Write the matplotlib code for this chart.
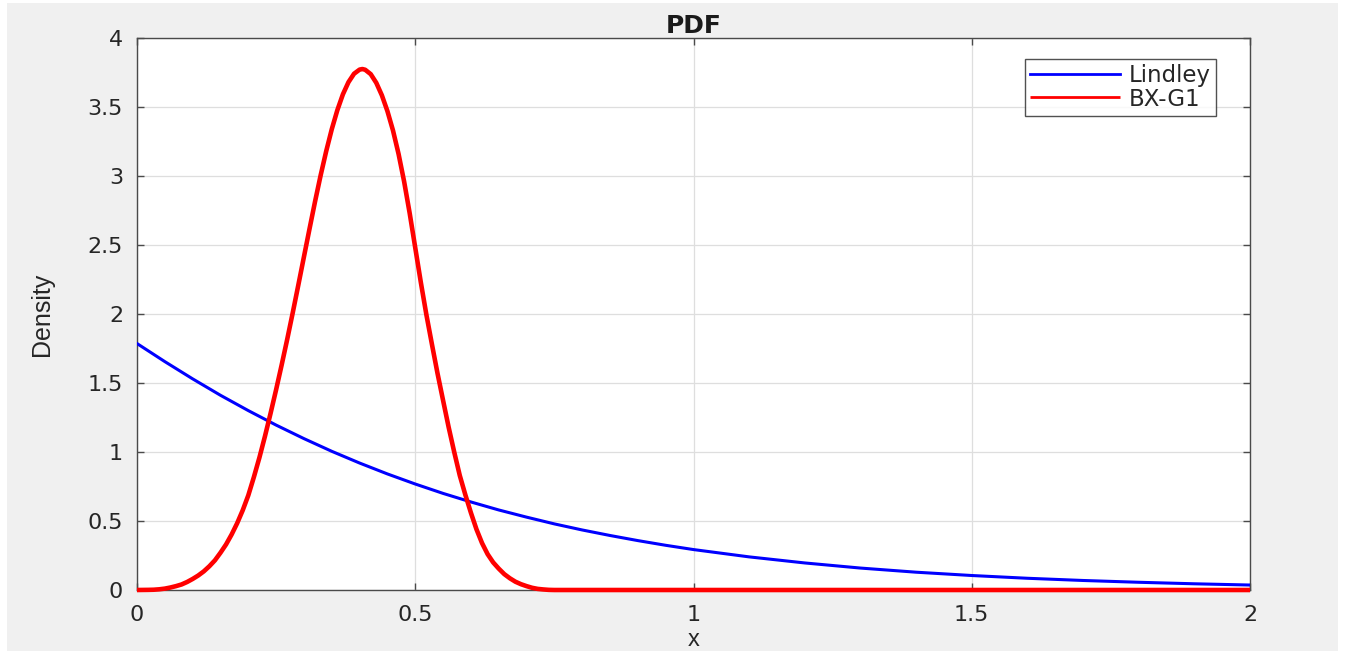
import matplotlib
matplotlib.use("Agg")
import matplotlib.pyplot as plt
from matplotlib.patches import Rectangle
from matplotlib import font_manager

# ---------------- data ----------------
lindley_x = [0.00, 0.05, 0.10, 0.15, 0.20, 0.25, 0.30, 0.35, 0.40, 0.45,
             0.50, 0.55, 0.60, 0.65, 0.70, 0.75, 0.80, 0.85, 0.90, 0.95,
             1.00, 1.10, 1.20, 1.30, 1.40, 1.50, 1.60, 1.70, 1.80, 1.90, 2.00]
lindley_y = [1.786, 1.655, 1.530, 1.411, 1.300, 1.195, 1.097, 1.005, 0.920, 0.841,
             0.768, 0.700, 0.638, 0.580, 0.528, 0.479, 0.435, 0.395, 0.358, 0.324,
             0.293, 0.240, 0.196, 0.159, 0.129, 0.105, 0.085, 0.069, 0.056, 0.045, 0.036]

bxg1_x = [0.00, 0.02, 0.03, 0.04, 0.05, 0.06, 0.07, 0.08, 0.09,
          0.10, 0.11, 0.12, 0.13, 0.14, 0.15, 0.16, 0.17, 0.18, 0.19,
          0.20, 0.21, 0.22, 0.23, 0.24, 0.25, 0.26, 0.27, 0.28, 0.29,
          0.30, 0.31, 0.32, 0.33, 0.34, 0.35, 0.36, 0.37, 0.38, 0.39,
          0.40, 0.405, 0.41, 0.42, 0.43, 0.44, 0.45, 0.46, 0.47, 0.48, 0.49,
          0.50, 0.51, 0.52, 0.53, 0.54, 0.55, 0.56, 0.57, 0.58, 0.59,
          0.60, 0.61, 0.62, 0.63, 0.64, 0.65, 0.66, 0.67, 0.68, 0.69,
          0.70, 0.71, 0.72, 0.73, 0.74, 0.75, 1.00, 1.50, 2.00]
bxg1_y = [0.000, 0.001, 0.002, 0.005, 0.010, 0.018, 0.028, 0.040, 0.058,
          0.080, 0.105, 0.135, 0.172, 0.215, 0.270, 0.330, 0.402, 0.484, 0.578,
          0.686, 0.818, 0.960, 1.115, 1.280, 1.452, 1.632, 1.818, 2.012, 2.212,
          2.415, 2.617, 2.816, 3.005, 3.180, 3.339, 3.477, 3.592, 3.680, 3.741,
          3.771, 3.775, 3.770, 3.738, 3.675, 3.585, 3.470, 3.330, 3.160, 2.960, 2.730,
          2.480, 2.230, 1.995, 1.780, 1.570, 1.374, 1.180, 1.000, 0.830, 0.690,
          0.560, 0.440, 0.340, 0.260, 0.200, 0.155, 0.115, 0.085, 0.060, 0.042,
          0.028, 0.016, 0.008, 0.004, 0.001, 0.000, 0.000, 0.000, 0.000]

series_names = ["Lindley", "BX-G1"]
series_colors = ["#0000ff", "#ff0000"]
x_ticks = [0, 0.5, 1, 1.5, 2]
x_tick_labels = ["0", "0.5", "1", "1.5", "2"]
y_ticks = [0, 0.5, 1, 1.5, 2, 2.5, 3, 3.5, 4]
y_tick_labels = ["0", "0.5", "1", "1.5", "2", "2.5", "3", "3.5", "4"]

# ---------------- fonts ----------------
avail = {f.name for f in font_manager.fontManager.ttflist}
base_font = "DejaVu Sans"
label_font = "Liberation Sans Narrow" if "Liberation Sans Narrow" in avail else "Liberation Sans"
plt.rcParams["font.family"] = [base_font]

# ---------------- figure ----------------
W, H = 1348, 651
fig = plt.figure(figsize=(W / 100, H / 100), dpi=100, facecolor="white")
fig.patches.append(Rectangle((7 / W, 0), (1338 - 7) / W, (H - 3) / H,
                             transform=fig.transFigure, facecolor="#f0f0f0",
                             edgecolor="none", zorder=-10))

left, right, top, bottom = 137, 1250, 38, 590
ax = fig.add_axes([left / W, (H - bottom) / H, (right - left) / W, (bottom - top) / H])
ax.set_facecolor("white")

ax.plot(lindley_x, lindley_y, color=series_colors[0], lw=2.2,
        label=series_names[0], zorder=3)
ax.plot(bxg1_x, bxg1_y, color=series_colors[1], lw=3.3,
        label=series_names[1], zorder=4, clip_on=False, solid_capstyle="butt",
        solid_joinstyle="round")

ax.set_xlim(0, 2)
ax.set_ylim(0, 4)
ax.set_xticks(x_ticks)
ax.set_xticklabels(x_tick_labels)
ax.set_yticks(y_ticks)
ax.set_yticklabels(y_tick_labels)

ax.grid(True, color="#dedede", lw=0.9)
ax.set_axisbelow(True)

spine_col = "#4a4a4a"
for s in ax.spines.values():
    s.set_color(spine_col)
    s.set_linewidth(1.0)
    s.set_zorder(2.5)

ax.tick_params(axis="both", which="both", direction="in", length=5, width=1.0,
               color=spine_col, top=True, right=True, labelsize=16,
               labelcolor="#262626")
ax.tick_params(axis="y", pad=10)
ax.tick_params(axis="x", pad=11)

ax.set_title("PDF", fontsize=18, fontweight="bold", color="#1a1a1a", pad=3)

ax.set_ylabel("Density", fontsize=18, family=[label_font], color="#262626")
ax.yaxis.set_label_coords(-0.0746, 0.5)

ax.set_xlabel("x", fontsize=17, family=[label_font], color="#262626")
ax.xaxis.set_label_coords(0.5, (590 - 646) / 552)
ax.xaxis.label.set_verticalalignment("baseline")

leg = ax.legend(loc="upper right", bbox_to_anchor=(1216 / W, (H - 59) / H),
                bbox_transform=fig.transFigure, fontsize=16.5, frameon=True,
                fancybox=False, edgecolor="#262626", handlelength=3.9,
                handletextpad=0.4, borderpad=0.22, labelspacing=0.02,
                borderaxespad=0)
leg.get_frame().set_linewidth(1.0)
for line in leg.get_lines():
    line.set_linewidth(2.0)
for t in leg.get_texts():
    t.set_color("#262626")

fig.savefig("out.png", dpi=100, facecolor=fig.get_facecolor())
